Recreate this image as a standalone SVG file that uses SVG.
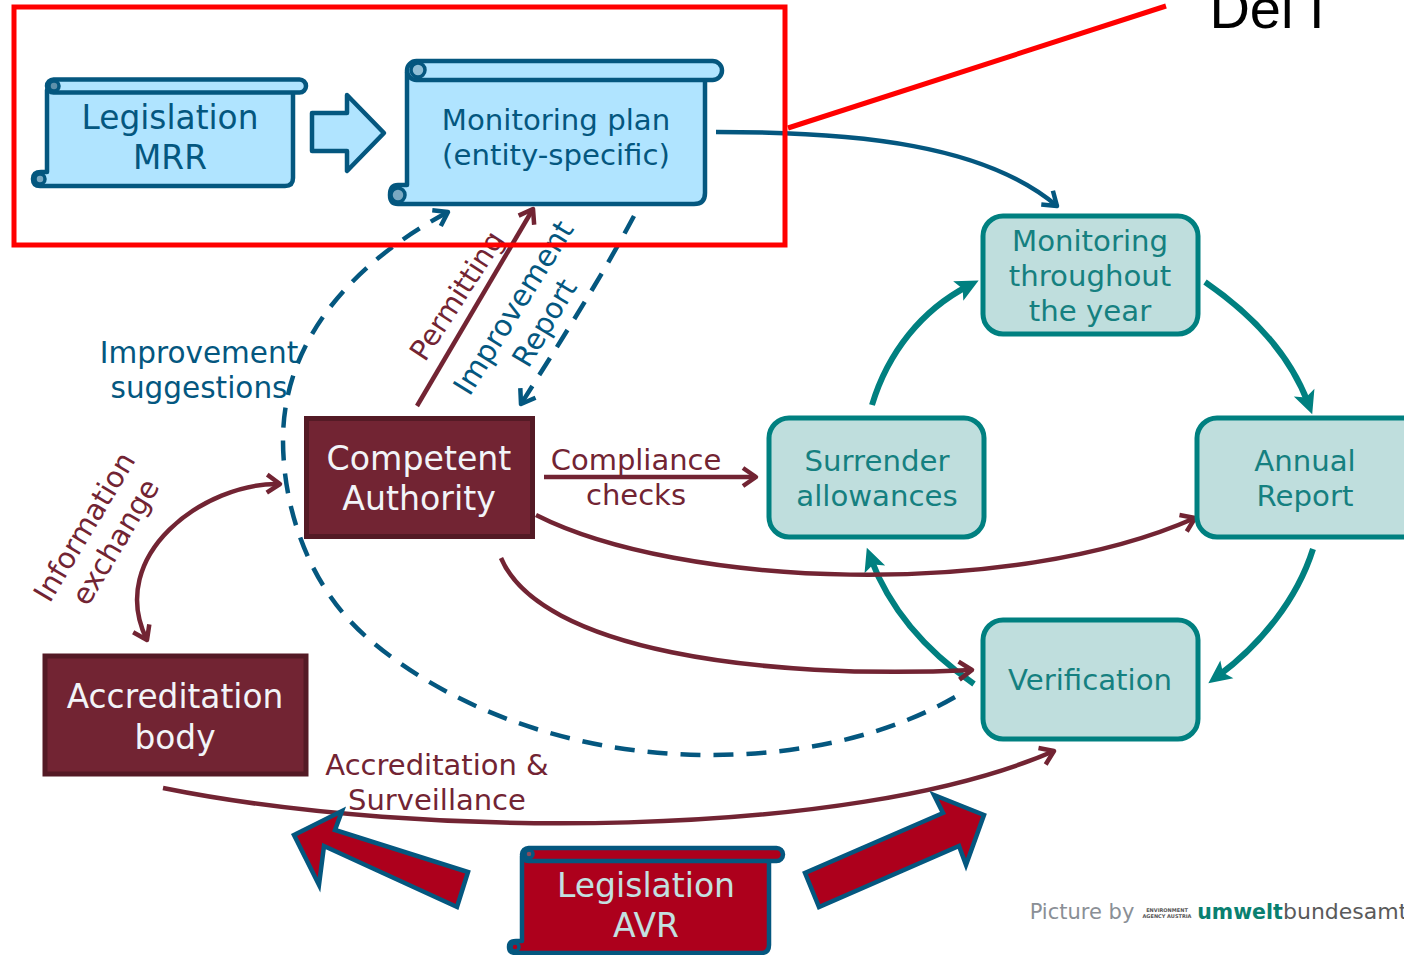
<svg xmlns="http://www.w3.org/2000/svg" width="1404" height="955" viewBox="0 0 1404 955">
<style>
text{font-family:"DejaVu Sans",Verdana,sans-serif;text-anchor:middle}
.scroll{fill:#b0e4ff;stroke:#04577f;stroke-width:4.5;stroke-linejoin:round}
.scrollr{fill:#ad001c;stroke:#04577f;stroke-width:4.5;stroke-linejoin:round}
.curl{stroke:#04577f;stroke-width:3.5}
.blue{fill:#04577f}.teal{fill:#158080}.mar{fill:#722433}.wh{fill:#f2f4f8}.lt{fill:#c3e0e0}
.tn{fill:#bfdedd;stroke:#008080;stroke-width:5}
.rn{fill:#722433;stroke:#541a25;stroke-width:5}
.c{fill:none;stroke-width:4.5}
.cb{stroke:#04577f}.ct{stroke:#008080;stroke-width:6}.cm{stroke:#722433}
.d{stroke-dasharray:20 13}
.red{fill:#ad001c;stroke:#04577f;stroke-width:4.5;stroke-linejoin:miter}
.m{font-size:29.2px}
</style>
<defs>
<marker id="at" markerUnits="userSpaceOnUse" markerWidth="30" markerHeight="30" refX="13" refY="14" orient="auto"><path d="M2 3L25 14L2 25L7 14Z" fill="#008080"/></marker>
<marker id="amo" markerUnits="userSpaceOnUse" markerWidth="30" markerHeight="30" refX="20" refY="13" orient="auto-start-reverse"><path d="M7 4L20 13L7 22" fill="none" stroke="#722433" stroke-width="4.5" stroke-linejoin="round"/></marker>
<marker id="abo" markerUnits="userSpaceOnUse" markerWidth="30" markerHeight="30" refX="20" refY="13" orient="auto"><path d="M7 4L20 13L7 22" fill="none" stroke="#04577f" stroke-width="4.5" stroke-linejoin="round"/></marker>
</defs>
<g id="connectors">
<path class="c cb" d="M716 132C860 132 985 145 1057 206" marker-end="url(#abo)"/>
<path class="c ct" d="M872 405C888 352 922 310 968 286" marker-end="url(#at)"/>
<path class="c ct" d="M1205 282C1253 315 1290 355 1308 403" marker-end="url(#at)"/>
<path class="c ct" d="M1313 549C1297 600 1260 645 1218 676" marker-end="url(#at)"/>
<path class="c ct" d="M974 684C925 650 890 610 871 559" marker-end="url(#at)"/>
<path class="c cm" d="M417 406L533 209" marker-end="url(#amo)"/>
<path class="c cm" d="M544 477L756 477" marker-end="url(#amo)"/>
<path class="c cm" d="M536 515C680 588 1010 600 1195 518" marker-end="url(#amo)"/>
<path class="c cm" d="M501 558C540 650 760 680 972 670" marker-end="url(#amo)"/>
<path class="c cm" d="M280 484C205 482 105 555 147 640" marker-start="url(#amo)" marker-end="url(#amo)"/>
<path class="c cm" d="M163 788C420 840 850 840 1054 751" marker-end="url(#amo)"/>
<path class="c cb d" d="M955 697C880 740 790 755 710 755C560 755 440 700 370 640C310 590 283 510 283 440C283 350 340 270 448 212" marker-end="url(#abo)"/>
<path class="c cb d" d="M634 216C600 280 555 350 521 404" marker-end="url(#abo)"/>
</g>
<g id="legislation-mrr">
<path class="scroll" d="M47 90H293V178Q293 186 285 186H40Q33 186 33 179Q33 172 41 172H47Z"/>
<rect class="scroll" x="47" y="79.500" width="259" height="13" rx="6.500"/>
<circle class="curl" cx="54" cy="86" r="5" fill="#5d90aa"/>
<circle class="curl" cx="40" cy="179" r="5" fill="#7aa9c2"/>
<text class="blue" x="170" y="129" font-size="32.800">Legislation</text>
<text class="blue" x="170" y="169" font-size="32.800">MRR</text>
</g>
<g id="block-arrow"><path class="scroll" d="M312 113H347V95L384 133L347 171V151H312Z"/></g>
<g id="monitoring-plan">
<path class="scroll" d="M407 72H705V193Q705 204 694 204H398Q390 204 390 195Q390 185 398 185H407Z"/>
<rect class="scroll" x="407" y="61" width="315" height="19" rx="9.500"/>
<circle class="curl" cx="418" cy="70" r="7" fill="#8fbfd6"/>
<circle class="curl" cx="398" cy="195" r="7" fill="#7aa9c2"/>
<text class="blue m" x="556" y="130">Monitoring plan</text>
<text class="blue m" x="556" y="165">(entity-specific)</text>
</g>
<g id="monitoring-year">
<rect class="tn" x="983" y="216" width="215" height="118" rx="20"/>
<text class="teal m" x="1090" y="251">Monitoring</text>
<text class="teal m" x="1090" y="286">throughout</text>
<text class="teal m" x="1090" y="321">the year</text>
</g>
<g id="surrender">
<rect class="tn" x="769" y="418" width="215" height="119" rx="20"/>
<text class="teal m" x="877" y="471">Surrender</text>
<text class="teal m" x="877" y="506">allowances</text>
</g>
<g id="annual-report">
<rect class="tn" x="1197" y="418" width="225" height="119" rx="20"/>
<text class="teal m" x="1305" y="471">Annual</text>
<text class="teal m" x="1305" y="506">Report</text>
</g>
<g id="verification">
<rect class="tn" x="983" y="620" width="215" height="119" rx="20"/>
<text class="teal m" x="1090" y="690">Verification</text>
</g>
<g id="competent-authority">
<rect class="rn" x="306.500" y="418.500" width="226" height="118"/>
<text class="wh" x="419" y="470" font-size="33.200">Competent</text>
<text class="wh" x="419" y="510" font-size="33.200">Authority</text>
</g>
<g id="accreditation-body">
<rect class="rn" x="45" y="656" width="261" height="118"/>
<text class="wh" x="175" y="708" font-size="32.800">Accreditation</text>
<text class="wh" x="175" y="749" font-size="32.800">body</text>
</g>
<g id="legislation-avr">
<path class="scrollr" d="M522 856H769V945Q769 953 761 953H516Q509 953 509 947Q509 941 516 941H522Z"/>
<rect class="scrollr" x="522" y="848" width="261" height="13" rx="6.500"/>
<circle class="curl" cx="529" cy="854" r="4" fill="#8a4a5a"/>
<circle class="curl" cx="515" cy="947" r="4" fill="#ad001c"/>
<text class="lt" x="646" y="897" font-size="33">Legislation</text>
<text class="lt" x="646" y="937" font-size="33">AVR</text>
</g>
<g id="red-arrow-left"><path class="red" d="M468 872L457 907L324 846L319 885L294 835L342 811L335 830Z"/></g>
<g id="red-arrow-right"><path class="red" d="M805 873L819 907L959 846L966 865L984 815L934 795L943 813Z"/></g>
<g id="labels">
<text class="blue" x="199" y="363" font-size="29.500">Improvement</text>
<text class="blue" x="199" y="398" font-size="29.500">suggestions</text>
<text class="mar" x="636" y="470" font-size="29">Compliance</text>
<text class="mar" x="636" y="505" font-size="29">checks</text>
<text class="mar" x="437" y="775" font-size="29">Accreditation &amp;</text>
<text class="mar" x="437" y="810" font-size="29">Surveillance</text>
<text class="mar" font-size="28.500" transform="translate(465 301) rotate(-57)">Permitting</text>
<text class="blue" font-size="29.500" transform="translate(522 313) rotate(-58)">Improvement</text>
<text class="blue" font-size="29" transform="translate(553 328) rotate(-59)">Report</text>
<text class="mar" font-size="29" transform="translate(93 532) rotate(-59)">Information</text>
<text class="mar" font-size="29" transform="translate(124 547) rotate(-59)">exchange</text>
</g>
<g id="credit">
<text x="1082" y="919" font-size="21" fill="#8a8f96">Picture by</text>
<text x="1167" y="912" font-size="5" fill="#555" font-weight="bold">ENVIRONMENT</text>
<text x="1167" y="918" font-size="5" fill="#555" font-weight="bold">AGENCY AUSTRIA</text>
<text x="1240" y="919" font-size="20.500" fill="#0a8070" font-weight="bold">umwelt</text>
<text x="1283" y="919" font-size="22" fill="#5a5a5a" style="text-anchor:start">bundesamt</text>
</g>
<g id="del">
<rect x="14" y="7" width="771" height="238" fill="none" stroke="#f00" stroke-width="5"/>
<path d="M788 128L1166 6" fill="none" stroke="#f00" stroke-width="5"/>
<text x="1267" y="28" font-size="56" style="font-family:'Liberation Sans',Arial,sans-serif" fill="#000">Del I</text>
</g>
</svg>
